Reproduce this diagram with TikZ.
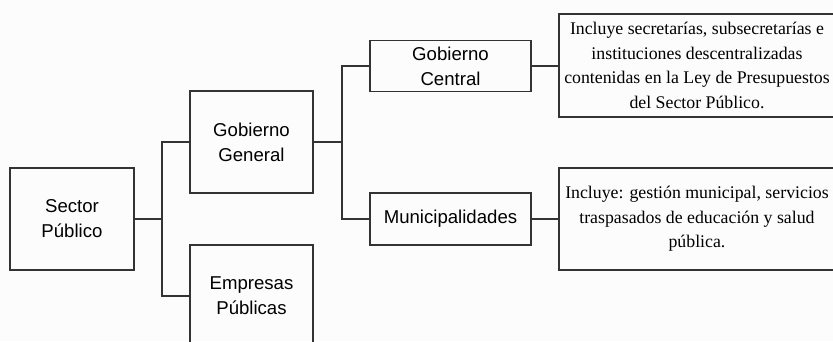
\documentclass[tikz,border=0pt]{standalone}
\usepackage{fontspec}
\setmainfont{Liberation Serif}
\setsansfont{Liberation Sans}
\begin{document}
\begin{tikzpicture}[x=1pt,y=-1pt,
  box/.style={draw=black!80,line width=1.3pt,rectangle,inner sep=0pt,align=center,font=\sffamily\fontsize{18.6}{25}\selectfont},
  note/.style={draw=black!80,line width=1.3pt,rectangle,inner sep=0pt,align=center,font=\rmfamily\fontsize{17.8}{24.7}\selectfont},
  conn/.style={draw=black!80,line width=1.3pt}]
\fill[white!99!black] (0,0) rectangle (833,341);
\useasboundingbox (0,0) rectangle (833,341);
\node[box,minimum width=124pt,minimum height=102pt] (sp) at (72,219) {Sector\\Público};
\node[box,minimum width=123pt,minimum height=102pt] (gg) at (251.5,142) {Gobierno\\General};
\node[box,minimum width=123pt,minimum height=102pt] (ep) at (251.5,296) {Empresas\\Públicas};
\node[box,minimum width=161pt,minimum height=51pt] (gc) at (450.5,66) {Gobierno\\Central};
\node[box,minimum width=161pt,minimum height=52pt] (mu) at (450.5,219) {Municipalidades};
\node[note,minimum width=276pt,minimum height=103pt] (n1) at (697,65.5) {Incluye secretarías, subsecretarías e\\instituciones descentralizadas\\contenidas en la Ley de Presupuestos\\del Sector Público.};
\node[note,minimum width=276pt,minimum height=102pt] (n2) at (697,219) {Incluye: gestión municipal, servicios\\traspasados de educación y salud\\pública.};
\coordinate (j1) at (162,219);
\coordinate (j2) at (342,142);
\draw[conn] (sp.east) -- (j1);
\draw[conn] (j1) |- (gg.west);
\draw[conn] (j1) |- (ep.west);
\draw[conn] (gg.east) -- (j2);
\draw[conn] (j2) |- (gc.west);
\draw[conn] (j2) |- (mu.west);
\draw[conn] (gc.east) -- (n1.west |- gc.east);
\draw[conn] (mu.east) -- (n2.west);
\end{tikzpicture}
\end{document}
